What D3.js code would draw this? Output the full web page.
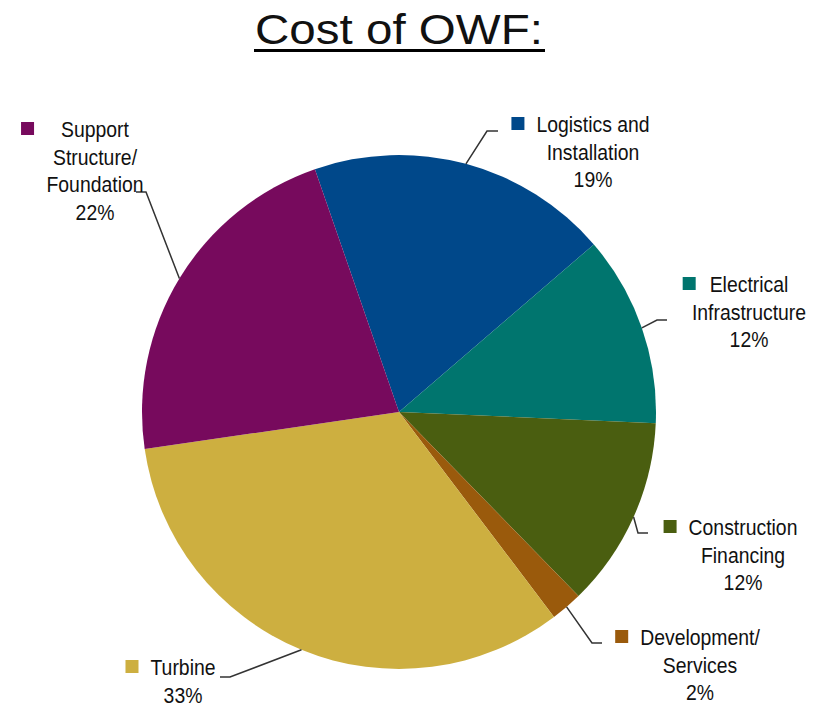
<!DOCTYPE html>
<html>
<head>
<meta charset="utf-8">
<script src="https://cdn.jsdelivr.net/npm/d3@7/dist/d3.min.js"></script>
<style>
  html, body { margin: 0; padding: 0; background: #fff; }
  svg { display: block; }
  text { font-family: "Liberation Sans", Arial, sans-serif; fill: #111; }
</style>
</head>
<body>
<svg id="chart" width="824" height="708"></svg>
<script>
// ---- data ----
const categories = ["Logistics and Installation", "Electrical Infrastructure", "Construction Financing",
                    "Development/ Services", "Turbine", "Support Structure/ Foundation"];
const labelLines = [
  ["Logistics and", "Installation"],
  ["Electrical", "Infrastructure"],
  ["Construction", "Financing"],
  ["Development/", "Services"],
  ["Turbine"],
  ["Support", "Structure/", "Foundation"]
];
const values = [19, 12, 12, 2, 33, 22];
const colors = ["#00488A", "#00756E", "#4A5E10", "#9A5A0C", "#CDAF40", "#770A5D"];
const title = "Cost of OWF:";

// ---- layout (label placement) ----
const layout = [
  { cx: 593, y0: 132, gap: 12, elbow: [487, 131], end: [498, 131] },
  { cx: 749, y0: 292, gap: 14, elbow: [657, 320], end: [667, 320] },
  { cx: 743, y0: 535, gap: 12, elbow: [638, 533], end: [648, 533] },
  { cx: 700, y0: 645, gap: 12, elbow: [592, 643], end: [602, 643] },
  { cx: 183, y0: 675, gap: 12, elbow: [230, 677], end: [220, 677] },
  { cx: 95,  y0: 137, gap: 27, elbow: [146, 192], end: [136, 192] }
];

const svg = d3.select("#chart");
const cx = 399, cy = 412, R = 257;
const startAngle = -19.1 * Math.PI / 180;

// title
svg.append("text")
  .attr("x", 399).attr("y", 44)
  .attr("text-anchor", "middle")
  .attr("textLength", 288).attr("lengthAdjust", "spacingAndGlyphs")
  .style("font-size", "42px")
  .text(title);
svg.append("rect").attr("x", 254).attr("y", 49).attr("width", 291).attr("height", 3).attr("fill", "#000");

const pie = d3.pie().sort(null).value(d => d)
  .startAngle(startAngle).endAngle(startAngle + 2 * Math.PI);
const arcs = pie(values);
const arc = d3.arc().innerRadius(0).outerRadius(R);

const g = svg.append("g").attr("transform", `translate(${cx},${cy})`);
g.selectAll("path").data(arcs).join("path")
  .attr("d", arc)
  .attr("fill", (d, i) => colors[i]);

// leader lines
arcs.forEach((d, i) => {
  const a = (d.startAngle + d.endAngle) / 2;
  const px = cx + R * Math.sin(a), py = cy - R * Math.cos(a);
  const L = layout[i];
  svg.append("polyline")
    .attr("points", `${px},${py} ${L.elbow[0]},${L.elbow[1]} ${L.end[0]},${L.end[1]}`)
    .attr("fill", "none").attr("stroke", "#333").attr("stroke-width", 1.5);
});

// labels
const lh = 27.5;
arcs.forEach((d, i) => {
  const L = layout[i];
  const lines = labelLines[i].concat([values[i] + "%"]);
  let firstW = 0;
  lines.forEach((ln, k) => {
    const tx = svg.append("text")
      .attr("transform", `translate(${L.cx},${L.y0 + k * lh}) scale(0.97,1.12)`)
      .attr("text-anchor", "middle")
      .style("font-size", "20px")
      .text(ln);
    if (k === 0) firstW = tx.node().getComputedTextLength() * 0.97;
  });
  const mx = L.cx - firstW / 2 - L.gap - 13;
  svg.append("rect")
    .attr("x", mx).attr("y", L.y0 - 15)
    .attr("width", 13).attr("height", 13)
    .attr("fill", colors[i]);
});
</script>
</body>
</html>
